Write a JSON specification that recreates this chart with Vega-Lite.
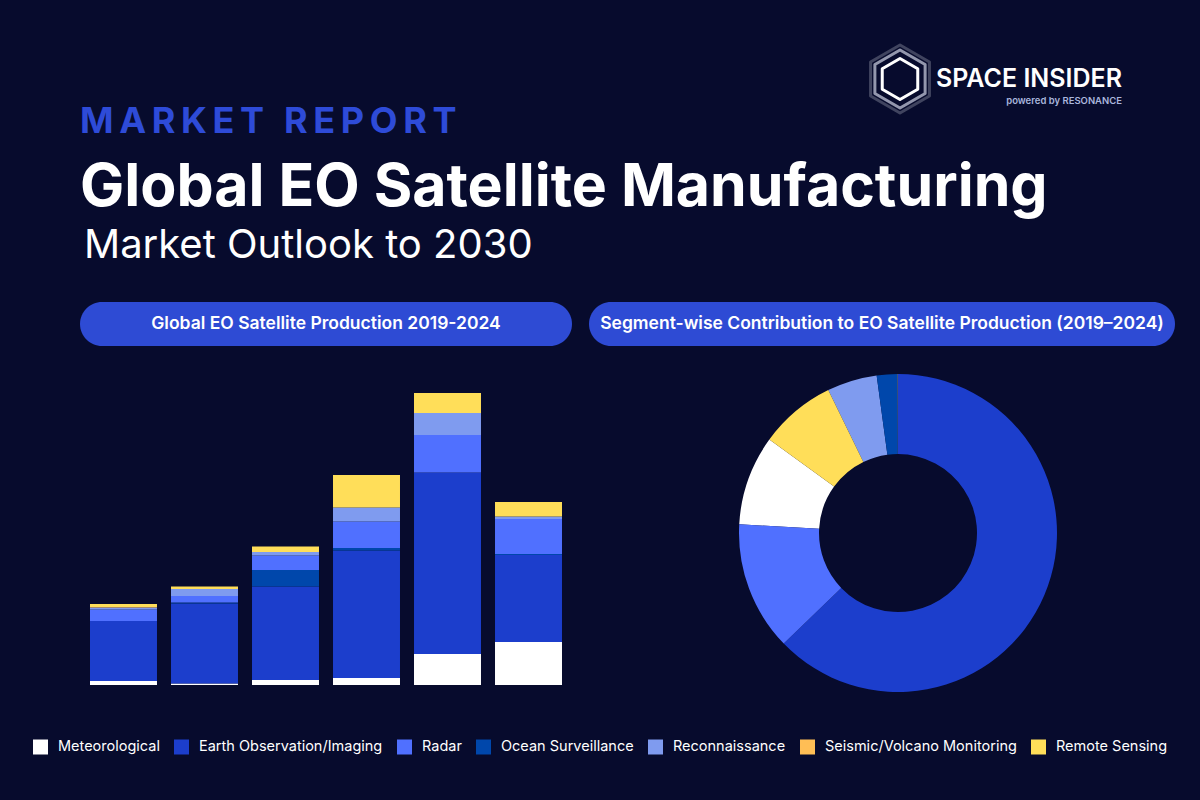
{
  "$schema": "https://vega.github.io/schema/vega-lite/v6.json",
  "background": "#070B2D",
  "padding": {"left": 33, "top": 43, "right": 0, "bottom": 50},
  "datasets": {
    "production": [
      {"year": "2019", "segment": "Meteorological", "value": 8},
      {"year": "2019", "segment": "Earth Observation/Imaging", "value": 120},
      {"year": "2019", "segment": "Radar", "value": 23},
      {"year": "2019", "segment": "Reconnaissance", "value": 4},
      {"year": "2019", "segment": "Seismic/Volcano Monitoring", "value": 1},
      {"year": "2019", "segment": "Remote Sensing", "value": 6},
      {"year": "2020", "segment": "Meteorological", "value": 3},
      {"year": "2020", "segment": "Earth Observation/Imaging", "value": 160},
      {"year": "2020", "segment": "Ocean Surveillance", "value": 2},
      {"year": "2020", "segment": "Radar", "value": 13},
      {"year": "2020", "segment": "Reconnaissance", "value": 14},
      {"year": "2020", "segment": "Remote Sensing", "value": 5},
      {"year": "2021", "segment": "Meteorological", "value": 10},
      {"year": "2021", "segment": "Earth Observation/Imaging", "value": 187},
      {"year": "2021", "segment": "Ocean Surveillance", "value": 33},
      {"year": "2021", "segment": "Radar", "value": 29},
      {"year": "2021", "segment": "Reconnaissance", "value": 7},
      {"year": "2021", "segment": "Remote Sensing", "value": 11},
      {"year": "2022", "segment": "Meteorological", "value": 14},
      {"year": "2022", "segment": "Earth Observation/Imaging", "value": 255},
      {"year": "2022", "segment": "Ocean Surveillance", "value": 5},
      {"year": "2022", "segment": "Radar", "value": 53},
      {"year": "2022", "segment": "Reconnaissance", "value": 28},
      {"year": "2022", "segment": "Remote Sensing", "value": 65},
      {"year": "2023", "segment": "Meteorological", "value": 62},
      {"year": "2023", "segment": "Earth Observation/Imaging", "value": 363},
      {"year": "2023", "segment": "Radar", "value": 75},
      {"year": "2023", "segment": "Reconnaissance", "value": 44},
      {"year": "2023", "segment": "Remote Sensing", "value": 40},
      {"year": "2024", "segment": "Meteorological", "value": 86},
      {"year": "2024", "segment": "Earth Observation/Imaging", "value": 174},
      {"year": "2024", "segment": "Ocean Surveillance", "value": 2},
      {"year": "2024", "segment": "Radar", "value": 70},
      {"year": "2024", "segment": "Reconnaissance", "value": 5},
      {"year": "2024", "segment": "Remote Sensing", "value": 29}
    ]
  },
  "vconcat": [
    {
      "hconcat": [
        {"width": 789, "height": 72, "data": {"values": []}, "mark": {"type": "point", "opacity": 0}, "encoding": {}},
        {
          "width": 60, "height": 72,
          "data": {"values": [{"brand": "Space Insider"}]},
          "layer": [
            {"mark": {"type": "point", "shape": "M0,-1L0.866,-0.5L0.866,0.5L0,1L-0.866,0.5L-0.866,-0.5Z", "size": 4624, "filled": false, "stroke": "#40445F", "strokeWidth": 3, "strokeJoin": "round", "opacity": 1}, "encoding": {}},
            {"mark": {"type": "point", "shape": "M0,-1L0.866,-0.5L0.866,0.5L0,1L-0.866,0.5L-0.866,-0.5Z", "size": 3364, "filled": false, "stroke": "#9397AD", "strokeWidth": 3, "strokeJoin": "round", "opacity": 1}, "encoding": {}},
            {"mark": {"type": "point", "shape": "M0,-1L0.866,-0.5L0.866,0.5L0,1L-0.866,0.5L-0.866,-0.5Z", "size": 1681, "filled": false, "stroke": "#FFFFFF", "strokeWidth": 3, "strokeJoin": "round", "opacity": 1}, "encoding": {}}
          ]
        },
        {
          "width": 191, "height": 21,
          "data": {"values": []}, "mark": {"type": "point", "opacity": 0}, "encoding": {},
          "title": {
            "text": "SPACE INSIDER",
            "subtitle": "powered by RESONANCE",
            "orient": "bottom", "anchor": "end", "offset": 3,
            "font": "Inter", "fontSize": 25, "fontWeight": 600, "color": "#FFFFFF", "lineHeight": 25,
            "subtitleFont": "Inter", "subtitleFontSize": 9.5, "subtitleFontWeight": 600, "subtitleColor": "#A9B6DD", "subtitlePadding": 4
          }
        }
      ],
      "spacing": 0
    },
    {
      "title": {
        "text": "M\u2009A\u2009R\u2009K\u2009E\u2009T\u2009 \u2009R\u2009E\u2009P\u2009O\u2009R\u2009T",
        "subtitle": "Global EO Satellite Manufacturing",
        "font": "Inter", "fontSize": 36, "fontWeight": 700, "color": "#2E4BD8", "lineHeight": 35,
        "subtitleFont": "Inter", "subtitleFontSize": 59, "subtitleFontWeight": 700, "subtitleColor": "#FFFFFF", "subtitlePadding": 18,
        "anchor": "start", "offset": 7
      },
      "vconcat": [
        {
          "title": {"text": "Market Outlook to 2030", "font": "Inter", "fontSize": 40, "fontWeight": 400, "color": "#FFFFFF", "anchor": "start", "offset": 36, "dx": 4},
          "hconcat": [
            {
              "vconcat": [
                {
                  "width": 492, "height": 44,
                  "data": {"values": [{"label": "Global EO Satellite Production 2019-2024"}]},
                  "layer": [
                    {"mark": {"type": "rect", "color": "#2E4BD4", "cornerRadius": 22}, "encoding": {}},
                    {"mark": {"type": "text", "color": "#FFFFFF", "font": "Inter", "fontSize": 17.5, "fontWeight": 600}, "encoding": {"text": {"field": "label"}}}
                  ]
                },
                {
                  "width": 492, "height": 311,
                  "data": {"name": "production"},
                  "transform": [
                    {"calculate": "indexof(['Meteorological', 'Earth Observation/Imaging', 'Ocean Surveillance', 'Radar', 'Reconnaissance', 'Seismic/Volcano Monitoring', 'Remote Sensing'], datum.segment)", "as": "stackOrder"}
                  ],
                  "mark": {"type": "bar"},
                  "encoding": {
                    "x": {"field": "year", "type": "ordinal", "axis": null, "scale": {"paddingInner": 0.173, "paddingOuter": 0.1235}},
                    "y": {"field": "value", "type": "quantitative", "axis": null, "stack": "zero", "scale": {"domain": [0, 622], "nice": false}},
                    "order": {"field": "stackOrder", "type": "quantitative", "sort": "ascending"},
                    "color": {
                      "field": "segment", "type": "nominal",
                      "scale": {
                        "domain": ["Meteorological", "Earth Observation/Imaging", "Radar", "Ocean Surveillance", "Reconnaissance", "Seismic/Volcano Monitoring", "Remote Sensing"],
                        "range": ["#FFFFFF", "#1C3ECC", "#5070FF", "#0047AB", "#7F9BEF", "#FFBE55", "#FFDE59"]
                      },
                      "legend": {"orient": "none", "legendX": -47, "legendY": 696.5, "direction": "horizontal", "columns": 7, "title": null}
                    }
                  }
                }
              ],
              "spacing": 28
            },
            {
              "vconcat": [
                {
                  "width": 586, "height": 44,
                  "data": {"values": [{"label": "Segment-wise Contribution to EO Satellite Production (2019\u20132024)"}]},
                  "layer": [
                    {"mark": {"type": "rect", "color": "#2E4BD4", "cornerRadius": 22}, "encoding": {}},
                    {"mark": {"type": "text", "color": "#FFFFFF", "font": "Inter", "fontSize": 17.5, "fontWeight": 600}, "encoding": {"text": {"field": "label"}}}
                  ]
                },
                {
                  "width": 618, "height": 318,
                  "data": {"name": "production"},
                  "mark": {"type": "arc", "innerRadius": 79, "outerRadius": 159},
                  "encoding": {
                    "theta": {"aggregate": "sum", "field": "value", "type": "quantitative"},
                    "order": {"aggregate": "sum", "field": "value", "type": "quantitative", "sort": "descending"},
                    "color": {
                      "field": "segment", "type": "nominal",
                      "scale": {
                        "domain": ["Meteorological", "Earth Observation/Imaging", "Radar", "Ocean Surveillance", "Reconnaissance", "Seismic/Volcano Monitoring", "Remote Sensing"],
                        "range": ["#FFFFFF", "#1C3ECC", "#5070FF", "#0047AB", "#7F9BEF", "#FFBE55", "#FFDE59"]
                      },
                      "legend": {"orient": "none", "legendX": -47, "legendY": 696.5, "direction": "horizontal", "columns": 7, "title": null}
                    }
                  }
                }
              ],
              "spacing": 28
            }
          ],
          "spacing": 17
        }
      ]
    }
  ],
  "spacing": -11,
  "config": {
    "font": "Inter",
    "view": {"stroke": null},
    "legend": {"labelColor": "#FFFFFF", "labelFont": "Inter", "labelFontSize": 14.5, "labelLimit": 400, "symbolType": "square", "symbolSize": 225, "symbolStrokeWidth": 0, "symbolOpacity": 1, "labelOffset": 10, "columnPadding": 14}
  }
}
